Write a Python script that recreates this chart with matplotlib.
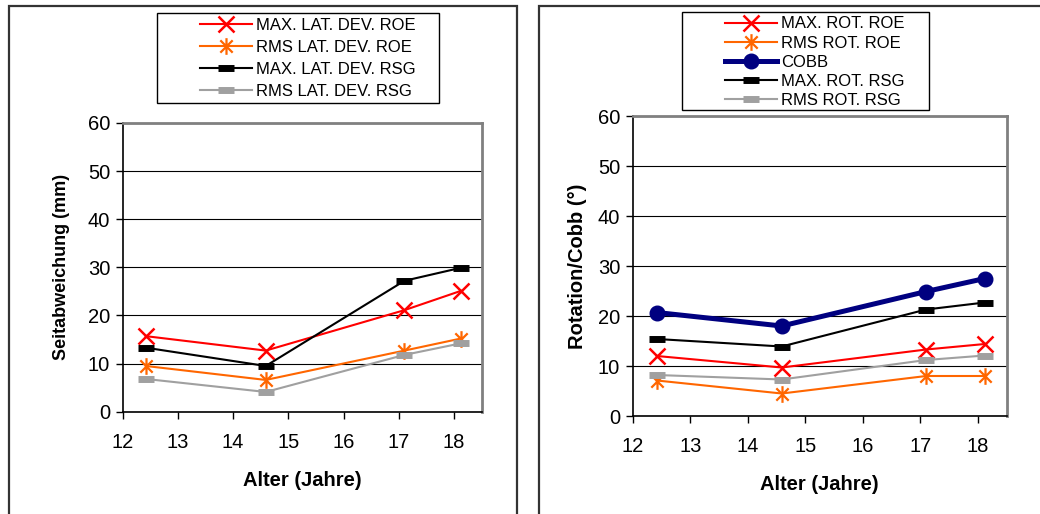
import matplotlib
matplotlib.use("Agg")
import matplotlib.pyplot as plt
from matplotlib.path import Path
from matplotlib.patches import Rectangle

plt.rcParams["font.family"] = ["Liberation Sans", "DejaVu Sans"]

# ages (years) shared by both panels
age = [12.42, 14.59, 17.10, 18.12]

# left panel: lateral deviation (mm)
max_lat_roe = [15.7, 12.7, 21.1, 25.1]
rms_lat_roe = [9.5, 6.6, 12.7, 15.2]
max_lat_rsg = [13.3, 9.5, 27.2, 29.9]
rms_lat_rsg = [6.8, 4.1, 11.8, 14.2]

# right panel: rotation / Cobb angle (deg)
max_rot_roe = [12.0, 9.7, 13.3, 14.4]
rms_rot_roe = [7.1, 4.5, 8.0, 8.0]
cobb = [20.7, 18.0, 24.9, 27.5]
max_rot_rsg = [15.4, 13.9, 21.3, 22.7]
rms_rot_rsg = [8.2, 7.3, 11.2, 12.1]

RED = "#ff0000"
ORANGE = "#ff6600"
NAVY = "#000080"
GRAY = "#a0a0a0"

# Excel-style asterisk marker (X plus vertical bar)
STAR = Path([(-1, -1), (1, 1), (-1, 1), (1, -1), (0, -1.35), (0, 1.35)],
            [Path.MOVETO, Path.LINETO, Path.MOVETO, Path.LINETO,
             Path.MOVETO, Path.LINETO])

W, H = 1040, 514
fig = plt.figure(figsize=(W / 100, H / 100), dpi=100)


def fx(px):
    return px / W


def fy(py):
    return 1 - py / H


def style_axes(ax, ylabel, ylabel_size, ylabel_pad):
    ax.set_xlim(12, 18.5)
    ax.set_ylim(0, 60)
    ax.set_xticks(range(12, 19))
    ax.set_yticks(range(0, 61, 10))
    ax.tick_params(direction="out", length=5, width=1, labelsize=14.5,
                   color="black")
    ax.tick_params(axis="x", pad=10)
    ax.tick_params(axis="y", pad=4)
    for s in ("left", "bottom"):
        ax.spines[s].set_color("black")
        ax.spines[s].set_linewidth(1.2)
    for s in ("top", "right"):
        ax.spines[s].set_color("#808080")
        ax.spines[s].set_linewidth(2.0)
    ax.yaxis.grid(True, color="black", lw=0.8)
    ax.set_axisbelow(True)
    ax.set_xlabel("Alter (Jahre)", fontsize=14.5, fontweight="bold",
                  labelpad=14)
    ax.set_ylabel(ylabel, fontsize=ylabel_size, fontweight="bold",
                  labelpad=ylabel_pad)


def line(ax, y, color, marker, ms, mew, lw=1.5, label=None):
    return ax.plot(age, y, color=color, lw=lw, marker=marker, ms=ms, mew=mew,
                   mec=color, mfc=color, label=label, clip_on=False)[0]


def legend_box(handles, x0, y0, x1, y1, hx, ty, spacing):
    fig.add_artist(Rectangle((fx(x0), fy(y1)), fx(x1) - fx(x0), fy(y0) - fy(y1),
                             transform=fig.transFigure, fill=False,
                             ec="black", lw=1.0))
    fig.legend(handles=handles, loc="upper left",
               bbox_to_anchor=(fx(hx), fy(ty)), frameon=False, borderpad=0,
               borderaxespad=0, fontsize=12, handlelength=3.1,
               handletextpad=0.25, labelspacing=spacing, numpoints=1)


# panel frames
fig.add_artist(Rectangle((fx(8.7), -0.05), fx(516.7) - fx(8.7), fy(6.3) + 0.05,
                         transform=fig.transFigure, fill=False,
                         ec="#333333", lw=1.6))
fig.add_artist(Rectangle((fx(539), -0.05), 0.6, fy(6.3) + 0.05,
                         transform=fig.transFigure, fill=False,
                         ec="#333333", lw=1.6))

# left panel
ax1 = fig.add_axes([fx(122.7), fy(411.7), fx(481.7) - fx(122.7),
                    fy(123) - fy(411.7)])
h1 = [
    line(ax1, max_lat_roe, RED, "x", 11, 1.8, label="MAX. LAT. DEV. ROE"),
    line(ax1, rms_lat_roe, ORANGE, STAR, 12, 1.6, label="RMS LAT. DEV. ROE"),
    line(ax1, max_lat_rsg, "black", "_", 12, 5, label="MAX. LAT. DEV. RSG"),
    line(ax1, rms_lat_rsg, GRAY, "_", 12, 5, label="RMS LAT. DEV. RSG"),
]
style_axes(ax1, "Seitabweichung (mm)", 13, 13)
legend_box(h1, 157, 12.7, 439, 103, 200, 17.5, 0.42)

# right panel
ax2 = fig.add_axes([fx(632.7), fy(416), fx(1006.7) - fx(632.7),
                    fy(116) - fy(416)])
h2 = [
    line(ax2, max_rot_roe, RED, "x", 11, 1.8, label="MAX. ROT. ROE"),
    line(ax2, rms_rot_roe, ORANGE, STAR, 12, 1.6, label="RMS ROT. ROE"),
    line(ax2, cobb, NAVY, "o", 10.5, 1, lw=3.6, label="COBB"),
    line(ax2, max_rot_rsg, "black", "_", 12, 5, label="MAX. ROT. RSG"),
    line(ax2, rms_rot_rsg, GRAY, "_", 12, 5, label="RMS ROT. RSG"),
]
style_axes(ax2, "Rotation/Cobb (°)", 14.5, 8)
legend_box(h2, 681.7, 11.7, 929, 110, 725, 16.5, 0.25)

fig.savefig("out.png", dpi=100, facecolor="white")
